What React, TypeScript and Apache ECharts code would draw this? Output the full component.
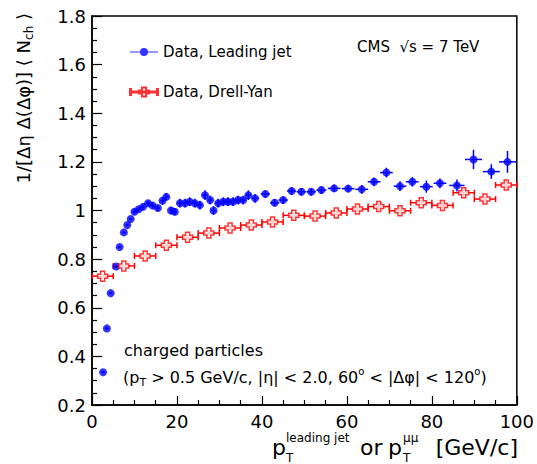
import React, { useEffect, useRef } from "react";
import * as echarts from "echarts";

// Data, Leading jet (blue filled circles)
const blueX = [2.6, 3.5, 4.4, 5.7, 6.5, 7.5, 8.3, 9.1, 10.0, 11.0, 12.0, 13.2, 14.3, 15.5, 16.6, 17.5, 18.6, 19.5,
  20.7, 21.9, 23.0, 24.2, 25.4, 26.6, 27.8, 28.6, 29.7, 30.9, 32.0, 33.2, 34.4, 35.6, 36.8, 38.4,
  40.8, 43.0, 45.0, 47.0, 49.3, 51.6, 54.0, 57.0, 60.3, 63.5, 66.4, 69.3, 72.5, 75.4, 78.7, 81.9, 85.9, 89.8, 94.0, 97.8];
const blueY = [0.335, 0.515, 0.66, 0.77, 0.85, 0.91, 0.94, 0.965, 0.995, 1.005, 1.015, 1.03, 1.02, 1.01, 1.04, 1.056, 1.0, 0.995,
  1.03, 1.03, 1.036, 1.03, 1.022, 1.063, 1.043, 1.0, 1.03, 1.036, 1.036, 1.036, 1.043, 1.043, 1.063, 1.05,
  1.068, 1.032, 1.043, 1.08, 1.077, 1.077, 1.084, 1.091, 1.09, 1.087, 1.118, 1.156, 1.1, 1.118, 1.098, 1.112, 1.103, 1.21, 1.16, 1.2];
const blueXErr = [0.4, 0.4, 0.4, 0.4, 0.4, 0.4, 0.4, 0.4, 0.5, 0.5, 0.5, 0.5, 0.5, 0.5, 0.5, 0.5, 0.5, 0.5,
  0.6, 0.6, 0.6, 0.6, 0.6, 0.6, 0.6, 0.6, 0.6, 0.6, 0.6, 0.6, 0.6, 0.6, 0.6, 0.8,
  1.1, 1.1, 1.1, 1.1, 1.1, 1.1, 1.2, 1.5, 1.5, 1.5, 1.5, 1.5, 1.5, 1.5, 1.5, 1.5, 1.8, 2.0, 2.0, 2.0];
const blueYErr = [0.005, 0.005, 0.005, 0.005, 0.005, 0.005, 0.005, 0.005, 0.01, 0.01, 0.01, 0.01, 0.012, 0.012, 0.015, 0.015, 0.015, 0.015,
  0.018, 0.018, 0.018, 0.018, 0.018, 0.02, 0.018, 0.018, 0.018, 0.018, 0.018, 0.018, 0.018, 0.018, 0.02, 0.018,
  0.015, 0.015, 0.015, 0.015, 0.015, 0.015, 0.015, 0.015, 0.015, 0.018, 0.018, 0.02, 0.02, 0.02, 0.025, 0.02, 0.025, 0.04, 0.03, 0.045];

// Data, Drell-Yan (red open crosses)
const redX = [2.5, 7.5, 12.5, 17.5, 22.5, 27.5, 32.5, 37.5, 42.5, 47.5, 52.5, 57.5, 62.5, 67.5, 72.5, 77.5, 82.5, 87.5, 92.5, 97.5];
const redY = [0.73, 0.772, 0.813, 0.857, 0.89, 0.907, 0.928, 0.94, 0.953, 0.98, 0.977, 0.99, 1.006, 1.016, 0.999, 1.032, 1.021, 1.073, 1.047, 1.105];
const redXErr = [2.5, 2.5, 2.5, 2.5, 2.5, 2.5, 2.5, 2.5, 2.5, 2.5, 2.5, 2.5, 2.5, 2.5, 2.5, 2.5, 2.5, 2.5, 2.5, 2.5];
const redYErr = [0.005, 0.005, 0.005, 0.006, 0.006, 0.007, 0.008, 0.008, 0.01, 0.01, 0.01, 0.01, 0.012, 0.015, 0.012, 0.012, 0.014, 0.016, 0.015, 0.02];

const xMin = 0, xMax = 100, xStep = 20;
const yMin = 0.2, yMax = 1.8, yStep = 0.2;

const FONT = "DejaVu Sans";
const BLUE = "#0000ff";
const RED = "#ff0000";

const crossPath = "path://M3,0H7V3H10V7H7V10H3V7H0V3H3Z";
const blueLegendIcon = "path://M0,4H28V5H0Z M10,4.5A4,4 0 1 1 18,4.5A4,4 0 1 1 10,4.5Z";
const redLegendIcon = "path://M0,4H28V5H0Z M0,1.5H1V7.5H0Z M27,1.5H28V7.5H27Z M12,0H16V3H19V6H16V9H12V6H9V3H12Z";

function makeErr(color: string, caps: boolean) {
  return (params: any, api: any) => {
    const x = api.value(0), y = api.value(1), ex = api.value(2), ey = api.value(3);
    const l = api.coord([x - ex, y]);
    const r = api.coord([x + ex, y]);
    const t = api.coord([x, y + ey]);
    const b = api.coord([x, y - ey]);
    const style = { stroke: color, lineWidth: 1.5 };
    const children: any[] = [
      { type: "line", shape: { x1: l[0], y1: l[1], x2: r[0], y2: r[1] }, style },
      { type: "line", shape: { x1: t[0], y1: t[1], x2: b[0], y2: b[1] }, style },
    ];
    if (caps) {
      children.push({ type: "line", shape: { x1: l[0], y1: l[1] - 3, x2: l[0], y2: l[1] + 3 }, style });
      children.push({ type: "line", shape: { x1: r[0], y1: r[1] - 3, x2: r[0], y2: r[1] + 3 }, style });
    }
    return { type: "group", children };
  };
}

function txt(x: number, y: number, text: string, fontSize: number, align = "left") {
  return { type: "text", x, y, style: { text, fontFamily: FONT, fontSize, fill: "#000", align, verticalAlign: "middle" } };
}

export default function App() {
  const ref = useRef<HTMLDivElement>(null);
  useEffect(() => {
    const chart = echarts.init(ref.current!, null, { renderer: "svg" });
    const blueData = blueX.map((x, i) => [x, blueY[i]]);
    const redData = redX.map((x, i) => [x, redY[i]]);
    const blueErr = blueX.map((x, i) => [x, blueY[i], blueXErr[i], blueYErr[i]]);
    const redErr = redX.map((x, i) => [x, redY[i], redXErr[i], redYErr[i]]);
    const option: any = {
      animation: false,
      backgroundColor: "#fff",
      grid: { left: 92, top: 16, width: 425, height: 389, show: true, borderColor: "#000", borderWidth: 1.5, backgroundColor: "transparent" },
      legend: {
        orient: "vertical",
        left: 124,
        top: 38,
        itemGap: 22,
        itemWidth: 28,
        itemHeight: 9,
        selectedMode: false,
        textStyle: { fontFamily: FONT, fontSize: 15, color: "#000", lineHeight: 18 },
        data: [
          { name: "Data, Leading jet", icon: blueLegendIcon },
          { name: "Data, Drell-Yan", icon: redLegendIcon },
        ],
      },
      xAxis: {
        type: "value",
        min: xMin,
        max: xMax,
        interval: xStep,
        axisLine: { show: true, lineStyle: { color: "#000", width: 1.5 } },
        axisTick: { show: true, inside: true, length: 9, lineStyle: { color: "#000", width: 1.2 } },
        minorTick: { show: true, splitNumber: 4, length: 5, lineStyle: { color: "#000", width: 1.2 } },
        splitLine: { show: false },
        axisLabel: { fontFamily: FONT, fontSize: 18, color: "#000", margin: 7 },
      },
      yAxis: {
        type: "value",
        min: yMin,
        max: yMax,
        interval: yStep,
        axisLine: { show: true, lineStyle: { color: "#000", width: 1.5 } },
        axisTick: { show: true, inside: true, length: 10, lineStyle: { color: "#000", width: 1.2 } },
        minorTick: { show: true, splitNumber: 4, length: 5, lineStyle: { color: "#000", width: 1.2 } },
        splitLine: { show: false },
        axisLabel: { fontFamily: FONT, fontSize: 18, color: "#000", margin: 6 },
      },
      series: [
        { type: "custom", name: "errLJ", renderItem: makeErr(BLUE, false), data: blueErr, encode: { x: 0, y: 1 }, z: 2, silent: true },
        { type: "custom", name: "errDY", renderItem: makeErr(RED, true), data: redErr, encode: { x: 0, y: 1 }, z: 2, silent: true },
        { type: "scatter", name: "Data, Leading jet", data: blueData, symbol: "circle", symbolSize: 8, itemStyle: { color: BLUE }, z: 4 },
        { type: "scatter", name: "Data, Drell-Yan", data: redData, symbol: crossPath, symbolSize: 10, itemStyle: { color: "#fff", borderColor: RED, borderWidth: 1.5 }, z: 5 },
      ],
      graphic: [
        txt(357, 47, "CMS  √s = 7 TeV", 15),
        txt(124, 350, "charged particles", 16),
        {
          type: "text", x: 123, y: 377,
          style: {
            text: "(p{s|T} > 0.5 GeV/c, |η| < 2.0, 60{u|o} < |Δφ| < 120{u|o})",
            fontFamily: FONT, fontSize: 16, lineHeight: 22, fill: "#000", align: "left", verticalAlign: "middle",
            rich: {
              s: { fontFamily: FONT, fontSize: 11, lineHeight: 11, verticalAlign: "bottom", fill: "#000" },
              u: { fontFamily: FONT, fontSize: 10, lineHeight: 10, verticalAlign: "top", fill: "#000" },
            },
          },
        },
        {
          type: "text", x: 23, y: 13, rotation: Math.PI / 2,
          style: {
            text: "1/[Δη Δ(Δφ)] ⟨ N{s|ch} ⟩",
            fontFamily: FONT, fontSize: 18, lineHeight: 24, fill: "#000", align: "right", verticalAlign: "middle",
            rich: { s: { fontFamily: FONT, fontSize: 12, lineHeight: 12, verticalAlign: "bottom", fill: "#000" } },
          },
        },
        txt(272, 447, "p", 22),
        txt(286, 438, "leading jet", 12),
        txt(286, 458, "T", 12),
        txt(360, 447, "or", 22),
        txt(388, 447, "p", 22),
        txt(403, 438, "μμ", 12),
        txt(403, 458, "T", 12),
        txt(518, 447, "[GeV/c]", 22, "right"),
      ],
    };
    chart.setOption(option);
    return () => chart.dispose();
  }, []);
  return <div ref={ref} style={{ position: "absolute", left: 0, top: 0, width: 537, height: 464 }} />;
}
